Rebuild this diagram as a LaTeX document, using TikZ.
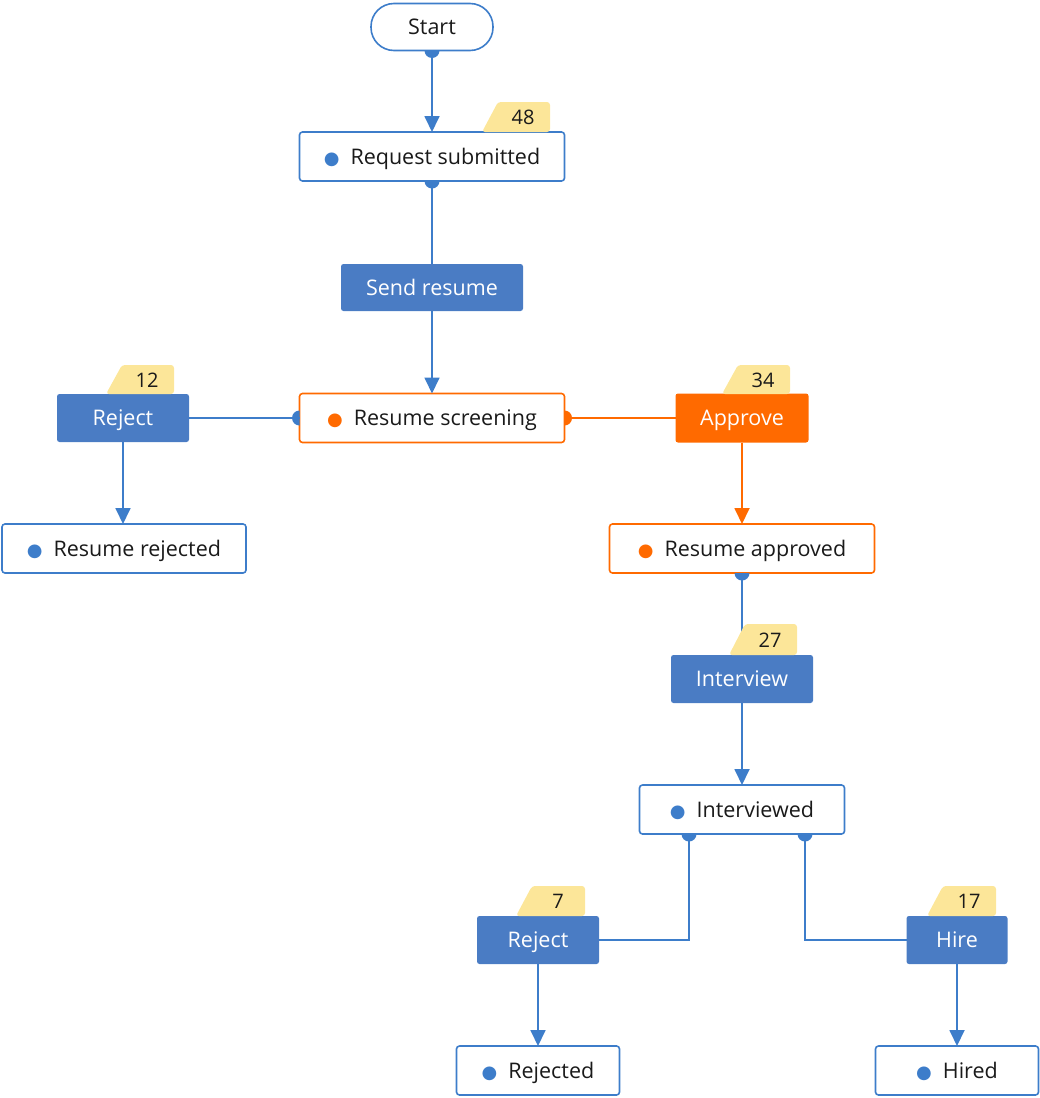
\documentclass[tikz,border=0pt]{standalone}
\usepackage{fontspec}
\setmainfont{Open Sans}
\newfontfamily\symf{DejaVu Sans}
\usetikzlibrary{arrows.meta}
\definecolor{bl}{RGB}{61,125,202}
\definecolor{bf}{RGB}{74,124,196}
\definecolor{orn}{RGB}{255,106,0}
\definecolor{yl}{RGB}{252,230,153}
\definecolor{tx}{RGB}{26,26,26}
\newcommand\bul[1]{{\color{#1}\fontsize{18pt}{18pt}\symf ●}\hspace{11pt}}
\tikzset{
  base/.style={inner sep=0pt, outer sep=0pt, font=\fontsize{21.5pt}{24pt}\selectfont, text height=16pt, text depth=1pt},
  wbox/.style={base, draw=bl, line width=1.6pt, fill=white, rounded corners=3pt, text=tx},
  obox/.style={wbox, draw=orn},
  bbox/.style={base, fill=bf, rounded corners=2.5pt, text=white},
  abox/.style={bbox, fill=orn},
  conn/.style={draw=bl, line width=1.8pt},
  oconn/.style={conn, draw=orn},
  arr/.style={conn, -{Triangle[width=15pt,length=16pt]}},
  oarr/.style={arr, draw=orn, fill=orn},
  bdg/.style={fill=yl, rounded corners=3pt},
  bdgt/.style={base, text=tx, font=\fontsize{20pt}{22pt}\selectfont},
}
\newcommand\badge[6]{% name, xl, xr, ytop, ybot, text
  \fill[bdg] (#2,#5) -- (#2+16,#4) -- (#3,#4) -- (#3,#5) -- cycle;
  \node[bdgt] (#1) at (#3-27,{(#4+#5)/2}) {#6};}
\newcommand\dotS[2]{\fill[#2] (#1) ++(-7.5pt,0) arc[start angle=180,end angle=360,radius=7.5pt] -- cycle;}
\newcommand\dotW[2]{\fill[#2] (#1) ++(0,7.5pt) arc[start angle=90,end angle=270,radius=7.5pt] -- cycle;}
\newcommand\dotE[2]{\fill[#2] (#1) ++(0,-7.5pt) arc[start angle=-90,end angle=90,radius=7.5pt] -- cycle;}
\begin{document}
\begin{tikzpicture}[x=1pt,y=-1pt]
\useasboundingbox (0,0) rectangle (1040,1098);
% nodes
\node[wbox, rounded corners=23pt, minimum width=122pt, minimum height=47pt] (start) at (432,27) {Start};
\node[wbox, minimum width=265pt, minimum height=49pt] (req) at (432,156.5) {\bul{bl}Request submitted};
\node[bbox, minimum width=182pt, minimum height=47pt] (send) at (432,287.5) {Send resume};
\node[obox, minimum width=265pt, minimum height=49pt] (rs) at (432,418) {\bul{orn}Resume screening};
\node[bbox, minimum width=132pt, minimum height=48pt] (rej1) at (123,418) {Reject};
\node[wbox, minimum width=244pt, minimum height=49pt] (rrej) at (124,548.5) {\bul{bl}Resume rejected};
\node[abox, minimum width=133pt, minimum height=49pt] (appr) at (742,418) {Approve};
\node[obox, minimum width=265pt, minimum height=49pt] (rapp) at (742,548.5) {\bul{orn}Resume approved};
\node[bbox, minimum width=142pt, minimum height=48pt] (int) at (742,679) {Interview};
\node[wbox, minimum width=205pt, minimum height=49pt] (intd) at (742,809.5) {\bul{bl}Interviewed};
\node[bbox, minimum width=122pt, minimum height=48pt] (rej2) at (538,940) {Reject};
\node[bbox, minimum width=101pt, minimum height=48pt] (hire) at (957,940) {Hire};
\node[wbox, minimum width=163pt, minimum height=49pt] (rejd) at (538,1070.5) {\bul{bl}Rejected};
\node[wbox, minimum width=163pt, minimum height=49pt] (hired) at (957,1070.5) {\bul{bl}Hired};
% connectors
\draw[arr] (start.south) -- (start.south |- req.north);
\draw[conn] (req.south) -- (req.south |- send.north);
\draw[arr] (send.south) -- (send.south |- rs.north);
\draw[conn] (rs.west) -- (rej1.east);
\draw[arr] (rej1.south) -- (rej1.south |- rrej.north);
\draw[oconn] (rs.east) -- (appr.west);
\draw[oarr] (appr.south) -- (appr.south |- rapp.north);
\draw[conn] (rapp.south) -- (rapp.south |- int.north);
\draw[arr] (int.south) -- (int.south |- intd.north);
\coordinate (iL) at ([xshift=-53pt]intd.south);
\coordinate (iR) at ([xshift=63pt]intd.south);
\draw[conn] (iL) |- (rej2.east);
\draw[conn] (iR) |- (hire.west);
\draw[arr] (rej2.south) -- (rej2.south |- rejd.north);
\draw[arr] (hire.south) -- (hire.south |- hired.north);
% port dots
\dotS{start.south}{bl}
\dotS{req.south}{bl}
\dotW{rs.west}{bl}
\dotE{rs.east}{orn}
\dotS{rapp.south}{bl}
\dotS{iL}{bl}
\dotS{iR}{bl}
% badges
\badge{b48}{482}{550}{102}{132}{48}
\badge{b12}{106}{174}{365}{394}{12}
\badge{b34}{722}{790}{365}{394}{34}
\badge{b27}{729}{797}{624}{655}{27}
\badge{b7}{516}{585}{886}{916}{7}
\badge{b17}{927}{996}{886}{916}{17}
\end{tikzpicture}
\end{document}
